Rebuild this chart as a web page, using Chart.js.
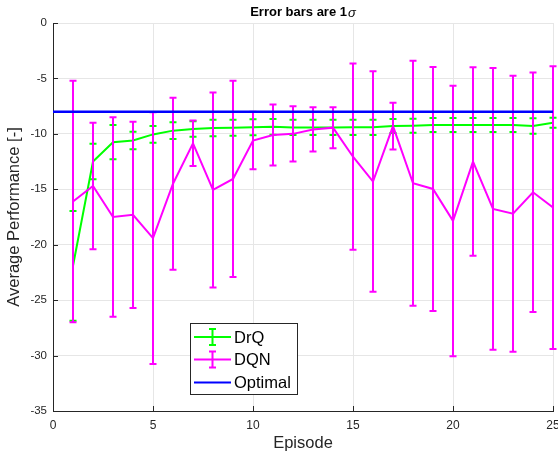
<!DOCTYPE html>
<html>
<head>
<meta charset="utf-8">
<script src="https://cdn.jsdelivr.net/npm/chart.js@4/dist/chart.umd.min.js"></script>
<style>
  html, body { margin: 0; padding: 0; background: #fff; }
  #wrap { width: 558px; height: 454px; position: relative; }
</style>
</head>
<body>
<div id="wrap"><canvas id="perfChart" width="558" height="454"></canvas></div>
<script>
// values
const episodes = [1, 2, 3, 4, 5, 6, 7, 8, 9, 10, 11, 12, 13, 14, 15, 16, 17, 18, 19, 20, 21, 22, 23, 24, 25];
const drqMean = [-21.9, -12.5, -10.75, -10.6, -10.05, -9.71, -9.56, -9.47, -9.44, -9.41, -9.37, -9.42, -9.42, -9.42, -9.41, -9.41, -9.29, -9.26, -9.2, -9.2, -9.2, -9.2, -9.2, -9.29, -8.99];
const drqStd = [4.95, 1.6, 1.55, 0.78, 0.75, 0.75, 0.7, 0.75, 0.72, 0.72, 0.7, 0.69, 0.69, 0.69, 0.69, 0.69, 0.63, 0.63, 0.63, 0.63, 0.63, 0.63, 0.63, 0.7, 0.45];
const dqnMean = [-16.1, -14.7, -17.5, -17.3, -19.4, -14.5, -10.85, -15.06, -14.07, -10.6, -10.1, -10.0, -9.6, -9.44, -12.06, -14.3, -9.3, -14.46, -14.97, -17.85, -12.5, -16.77, -17.2, -15.27, -16.65];
const dqnStd = [10.9, 5.7, 9.0, 8.4, 11.35, 7.75, 2.05, 8.8, 8.85, 2.6, 2.75, 2.5, 2.0, 1.85, 8.4, 9.95, 2.1, 11.05, 11.0, 12.2, 8.5, 12.7, 12.45, 10.8, 12.75];
const optimalX = [0, 25];
const optimalY = [-8, -8];

const xTicks = [0, 5, 10, 15, 20, 25];
const yTicks = [0, -5, -10, -15, -20, -25, -30, -35];

const FONT = "'Liberation Sans', Arial, Helvetica, sans-serif";
const AXIS_COLOR = '#262626';
const GRID_COLOR = '#e6e6e6';

function toPoints(xs, ys) {
    return xs.map((x, i) => ({ x: x, y: ys[i] }));
}

// draws the vertical error bars of a dataset right after it, so layering follows dataset order
const errorBarPlugin = {
    id: 'errorBars',
    afterDatasetDraw(chart, args) {
        const ds = chart.data.datasets[args.index];
        if (!ds.errors) return;
        const ctx = chart.ctx;
        const xs = chart.scales.x;
        const ys = chart.scales.y;
        const cap = 3.5;
        ctx.save();
        ctx.strokeStyle = ds.borderColor;
        ctx.lineWidth = 2;
        ds.data.forEach((p, i) => {
            const e = ds.errors[i];
            const px = xs.getPixelForValue(p.x);
            const top = ys.getPixelForValue(p.y + e);
            const bot = ys.getPixelForValue(p.y - e);
            ctx.beginPath();
            ctx.moveTo(px, top);
            ctx.lineTo(px, bot);
            ctx.moveTo(px - cap, top);
            ctx.lineTo(px + cap, top);
            ctx.moveTo(px - cap, bot);
            ctx.lineTo(px + cap, bot);
            ctx.stroke();
        });
        ctx.restore();
    }
};

// small inward tick marks on the left and bottom axes (matlab style)
const innerTicksPlugin = {
    id: 'innerTicks',
    afterDatasetsDraw(chart) {
        const ctx = chart.ctx;
        const area = chart.chartArea;
        const len = 5;
        ctx.save();
        ctx.strokeStyle = AXIS_COLOR;
        ctx.lineWidth = 1;
        ctx.beginPath();
        xTicks.forEach(v => {
            const px = Math.round(chart.scales.x.getPixelForValue(v)) + 0.5;
            ctx.moveTo(px, area.bottom);
            ctx.lineTo(px, area.bottom - len);
        });
        yTicks.forEach(v => {
            const py = Math.round(chart.scales.y.getPixelForValue(v)) + 0.5;
            ctx.moveTo(area.left, py);
            ctx.lineTo(area.left + len, py);
        });
        ctx.stroke();
        ctx.restore();
    }
};

// title centred over the plot area, with an italic sigma
const titlePlugin = {
    id: 'plotTitle',
    afterDraw(chart) {
        const ctx = chart.ctx;
        const area = chart.chartArea;
        const main = 'Error bars are 1';
        const sym = 'σ';
        ctx.save();
        ctx.fillStyle = '#000';
        ctx.textBaseline = 'middle';
        ctx.font = 'bold 13px ' + FONT;
        const w1 = ctx.measureText(main).width;
        ctx.font = 'italic 13px ' + FONT;
        const w2 = ctx.measureText(sym).width;
        const x0 = (area.left + area.right) / 2 - (w1 + w2 + 1) / 2;
        ctx.font = 'bold 13px ' + FONT;
        ctx.fillText(main, x0, 12);
        ctx.font = 'italic 13px ' + FONT;
        ctx.fillText(sym, x0 + w1 + 1, 13);
        ctx.restore();
    }
};

// boxed legend inside the axes, like the original figure
const boxLegendPlugin = {
    id: 'boxLegend',
    afterDraw(chart) {
        const ctx = chart.ctx;
        const left = 190.5, top = 323.5, width = 107, height = 71;
        const rowY = [337, 359.5, 382.5];
        ctx.save();
        ctx.fillStyle = '#fff';
        ctx.fillRect(left, top, width, height);
        ctx.strokeStyle = '#262626';
        ctx.lineWidth = 1;
        ctx.strokeRect(left, top, width, height);
        chart.data.datasets.forEach((ds, i) => {
            const y = rowY[i];
            ctx.strokeStyle = ds.borderColor;
            ctx.lineWidth = 2;
            ctx.beginPath();
            ctx.moveTo(194, y);
            ctx.lineTo(231, y);
            if (ds.errors) {
                ctx.moveTo(212.5, y - 8);
                ctx.lineTo(212.5, y + 8);
                ctx.moveTo(209, y - 8);
                ctx.lineTo(216, y - 8);
                ctx.moveTo(209, y + 8);
                ctx.lineTo(216, y + 8);
            }
            ctx.stroke();
            ctx.fillStyle = '#000';
            ctx.font = '16.5px ' + FONT;
            ctx.textBaseline = 'middle';
            ctx.fillText(ds.label, 234, y + 1);
        });
        ctx.restore();
    }
};

const ctx = document.getElementById('perfChart').getContext('2d');
new Chart(ctx, {
    type: 'line',
    data: {
        datasets: [
            {
                label: 'DrQ',
                data: toPoints(episodes, drqMean),
                errors: drqStd,
                borderColor: '#00ff00',
                borderWidth: 2,
                pointRadius: 0,
                tension: 0,
                order: 2
            },
            {
                label: 'DQN',
                data: toPoints(episodes, dqnMean),
                errors: dqnStd,
                borderColor: '#ff00ff',
                borderWidth: 2,
                pointRadius: 0,
                tension: 0,
                order: 1
            },
            {
                label: 'Optimal',
                data: toPoints(optimalX, optimalY),
                borderColor: '#0000ff',
                borderWidth: 2.5,
                pointRadius: 0,
                order: 0
            }
        ]
    },
    options: {
        responsive: false,
        animation: false,
        devicePixelRatio: 1,
        layout: { padding: { top: 23, right: 5, bottom: 0, left: 0 } },
        plugins: {
            legend: { display: false },
            title: { display: false },
            tooltip: { enabled: false }
        },
        scales: {
            x: {
                type: 'linear',
                min: 0,
                max: 25,
                afterBuildTicks: (scale) => { scale.ticks = xTicks.map(v => ({ value: v })); },
                afterFit: (scale) => {
                    scale.height = 43;
                    scale.paddingLeft = 0;
                    scale.paddingRight = 0;
                },
                grid: { color: GRID_COLOR, drawTicks: false },
                border: { display: true, color: AXIS_COLOR, width: 1 },
                ticks: { color: AXIS_COLOR, padding: 7, font: { family: FONT, size: 12 }, maxRotation: 0 },
                title: {
                    display: true,
                    text: 'Episode',
                    color: AXIS_COLOR,
                    font: { family: FONT, size: 16.5 },
                    padding: { top: 0, bottom: 1 }
                }
            },
            y: {
                type: 'linear',
                min: -35,
                max: 0,
                afterBuildTicks: (scale) => { scale.ticks = yTicks.map(v => ({ value: v })); },
                afterFit: (scale) => {
                    scale.width = 53;
                    scale.paddingTop = 0;
                    scale.paddingBottom = 0;
                },
                grid: { color: GRID_COLOR, drawTicks: false },
                border: { display: true, color: AXIS_COLOR, width: 1 },
                ticks: { color: AXIS_COLOR, padding: 6, font: { family: FONT, size: 11.5 } },
                title: {
                    display: true,
                    text: 'Average Performance [-]',
                    color: AXIS_COLOR,
                    font: { family: FONT, size: 16.5 },
                    padding: { top: 5, bottom: 0 }
                }
            }
        }
    },
    plugins: [errorBarPlugin, innerTicksPlugin, titlePlugin, boxLegendPlugin]
});
</script>
</body>
</html>
